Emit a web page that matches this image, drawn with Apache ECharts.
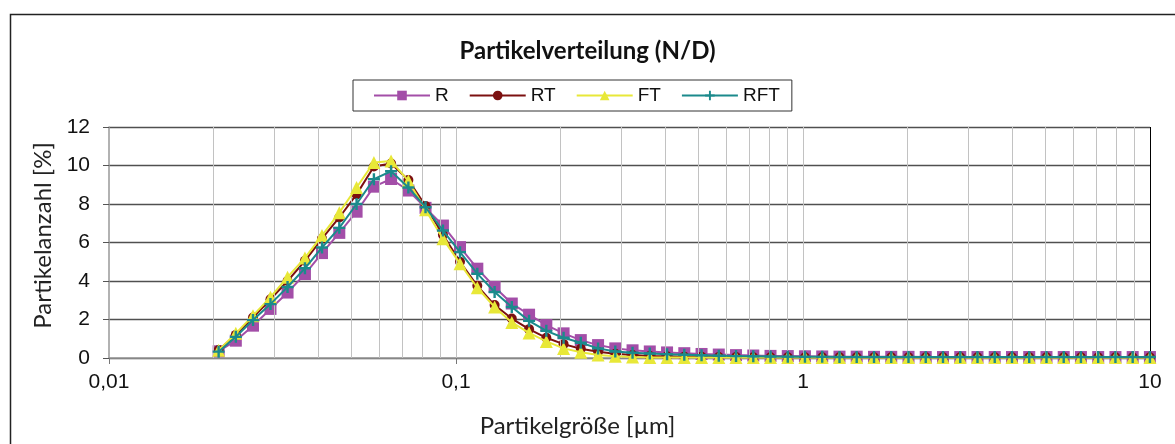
<!DOCTYPE html>
<html>
<head>
<meta charset="utf-8">
<script src="https://cdn.jsdelivr.net/npm/echarts@6/dist/echarts.min.js"></script>
<style>
  html, body { margin: 0; padding: 0; background: #fff; }
  #main { width: 1175px; height: 444px; }
</style>
</head>
<body>
<div id="main"></div>
<script>
// particle size classes [µm]
var sizes = [0.0207, 0.0232, 0.0260, 0.0292, 0.0327, 0.0367, 0.0411, 0.0461, 0.0517, 0.0580,
  0.0650, 0.0729, 0.0817, 0.0917, 0.1027, 0.1152, 0.1292, 0.1448, 0.1624, 0.1821,
  0.2042, 0.2289, 0.2567, 0.2878, 0.3227, 0.3618, 0.4057, 0.4549, 0.5101, 0.5719,
  0.6412, 0.7190, 0.8061, 0.9039, 1.013, 1.136, 1.274, 1.428, 1.602, 1.796,
  2.014, 2.258, 2.532, 2.839, 3.183, 3.569, 4.002, 4.487, 5.031, 5.641,
  6.324, 7.091, 7.951, 8.915, 9.995];

var R = [0.35, 0.9, 1.68, 2.55, 3.4, 4.36, 5.45, 6.5, 7.6, 8.9,
  9.3, 8.7, 7.8, 6.88, 5.76, 4.64, 3.69, 2.83, 2.25, 1.71,
  1.28, 0.93, 0.67, 0.5, 0.4, 0.34, 0.29, 0.25, 0.21, 0.18,
  0.15, 0.13, 0.11, 0.1, 0.09, 0.08, 0.07, 0.07, 0.06, 0.06,
  0.06, 0.05, 0.05, 0.05, 0.05, 0.05, 0.05, 0.05, 0.05, 0.05,
  0.05, 0.05, 0.05, 0.05, 0.05];
var RT = [0.42, 1.2, 2.1, 3.05, 4.0, 5.05, 6.2, 7.3, 8.5, 9.95,
  10.1, 9.25, 7.9, 6.4, 5.0, 3.75, 2.75, 2.05, 1.5, 1.05,
  0.72, 0.48, 0.32, 0.22, 0.15, 0.11, 0.09, 0.07, 0.06, 0.05,
  0.05, 0.04, 0.04, 0.04, 0.04, 0.04, 0.04, 0.04, 0.04, 0.04,
  0.04, 0.04, 0.04, 0.04, 0.04, 0.04, 0.04, 0.04, 0.04, 0.04,
  0.04, 0.04, 0.04, 0.04, 0.04];
var FT = [0.4, 1.28, 2.2, 3.16, 4.2, 5.2, 6.36, 7.55, 8.86, 10.16,
  10.24, 9.2, 7.7, 6.2, 4.9, 3.65, 2.65, 1.85, 1.3, 0.86,
  0.5, 0.3, 0.16, 0.09, 0.05, 0.03, 0.02, 0.02, 0.02, 0.02,
  0.02, 0.02, 0.02, 0.02, 0.02, 0.02, 0.02, 0.02, 0.02, 0.02,
  0.02, 0.02, 0.02, 0.02, 0.02, 0.02, 0.02, 0.02, 0.02, 0.02,
  0.02, 0.02, 0.02, 0.02, 0.02];
var RFT = [0.33, 1.1, 1.97, 2.8, 3.69, 4.66, 5.74, 6.76, 8.0, 9.29,
  9.7, 8.86, 7.83, 6.62, 5.5, 4.38, 3.43, 2.65, 1.93, 1.41,
  1.05, 0.79, 0.5, 0.34, 0.27, 0.23, 0.2, 0.17, 0.14, 0.12,
  0.1, 0.09, 0.08, 0.07, 0.06, 0.06, 0.05, 0.05, 0.05, 0.05,
  0.05, 0.05, 0.05, 0.05, 0.05, 0.05, 0.05, 0.05, 0.05, 0.05,
  0.05, 0.05, 0.05, 0.05, 0.05];

// vertical grid lines of the log axis
var logGrid = [0.02, 0.03, 0.04, 0.05, 0.06, 0.07, 0.08, 0.09, 0.1,
  0.2, 0.3, 0.4, 0.5, 0.6, 0.7, 0.8, 0.9, 1,
  2, 3, 4, 5, 6, 7, 8, 9];

function pairs(vals) {
  return sizes.map(function (s, i) { return [s, vals[i]]; });
}

var plus = 'path://M4,0H6V4H10V6H6V10H4V6H0V4H4Z';
var myChart = echarts.init(document.getElementById('main'));

var gridLines = logGrid.map(function (v) { return { xAxis: v }; });
gridLines.push({ xAxis: 10, lineStyle: { color: '#000', width: 1 } });

var option = {
  animation: false,
  backgroundColor: '#fff',
  graphic: [{
    type: 'rect', left: 8, top: 12,
    shape: { width: 1190, height: 460 },
    style: { fill: 'none', stroke: '#222', lineWidth: 1.5 },
    silent: true
  }],
  title: {
    text: 'Partikelverteilung (N/D)',
    left: 'center', top: 34,
    textStyle: { fontFamily: 'Lato', fontWeight: 'bold', fontSize: 24, color: '#111' }
  },
  legend: {
    data: ['R', 'RT', 'FT', 'RFT'],
    left: 353, top: 80,
    padding: [6, 12, 6, 20],
    itemWidth: 56, itemHeight: 12, itemGap: 20,
    borderColor: '#333', borderWidth: 1,
    backgroundColor: '#fff',
    textStyle: { fontFamily: 'Liberation Sans', fontSize: 19, color: '#111' }
  },
  grid: { left: 109, right: 25, top: 127, bottom: 86 },
  xAxis: {
    type: 'log', logBase: 10, min: 0.01, max: 10,
    name: 'Partikelgröße [µm]',
    nameLocation: 'middle', nameGap: 56,
    nameTextStyle: { fontFamily: 'Lato', fontSize: 24, color: '#222', padding: [0, 104, 0, 0] },
    axisLine: { lineStyle: { color: '#999', width: 1.5 } },
    axisTick: { show: true, length: 6, lineStyle: { color: '#777' } },
    axisLabel: {
      margin: 14, color: '#111', fontFamily: 'Liberation Sans', fontSize: 21,
      formatter: function (v) { return String(Number(v.toPrecision(3))).replace('.', ','); }
    },
    splitLine: { show: false },
    minorTick: { show: false }
  },
  yAxis: {
    type: 'value', min: 0, max: 12, interval: 2,
    name: 'Partikelanzahl [%]',
    nameLocation: 'middle', nameGap: 50, nameRotate: 90,
    nameTextStyle: { fontFamily: 'Lato', fontSize: 24, color: '#222', padding: [0, 0, 0, 14] },
    axisLine: { show: true, lineStyle: { color: '#999', width: 1.5 } },
    axisTick: { show: true, length: 6, lineStyle: { color: '#555' } },
    axisLabel: { margin: 19, color: '#111', fontFamily: 'Liberation Sans', fontSize: 21 },
    splitLine: { show: true, lineStyle: { color: '#505050', width: 1.3 } }
  },
  series: [
    {
      name: 'grid', type: 'line', data: [], silent: true, z: 1,
      markLine: {
        silent: true, symbol: ['none', 'none'], label: { show: false },
        lineStyle: { color: '#c2c2c2', width: 1, type: 'solid' },
        data: gridLines
      }
    },
    {
      name: 'R', type: 'line', z: 3, data: pairs(R),
      symbol: 'rect', symbolSize: 12,
      itemStyle: { color: '#a34ea8' }, lineStyle: { color: '#a34ea8', width: 2 }
    },
    {
      name: 'RT', type: 'line', z: 4, data: pairs(RT),
      symbol: 'circle', symbolSize: 10,
      itemStyle: { color: '#7c1010' }, lineStyle: { color: '#7c1010', width: 2 }
    },
    {
      name: 'FT', type: 'line', z: 5, data: pairs(FT),
      symbol: 'triangle', symbolSize: 13,
      itemStyle: { color: '#e8e838' }, lineStyle: { color: '#e8e838', width: 2 }
    },
    {
      name: 'RFT', type: 'line', z: 6, data: pairs(RFT),
      symbol: plus, symbolSize: 12,
      itemStyle: { color: '#1b8a8c' }, lineStyle: { color: '#1b8a8c', width: 2 }
    }
  ]
};

myChart.setOption(option, true);
window.onresize = function () { myChart.resize(); };
</script>
</body>
</html>
